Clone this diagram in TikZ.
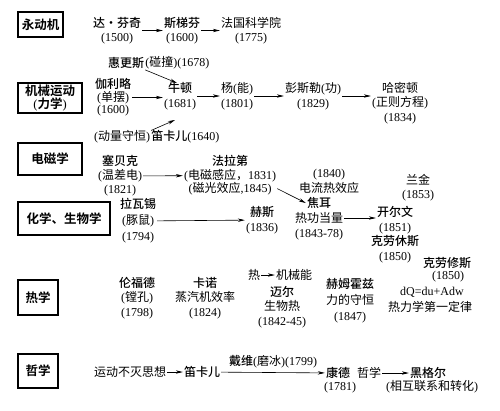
\documentclass[tikz,border=0pt]{standalone}
\usepackage{fontspec}
\setmainfont{Noto Sans CJK SC}[BoldFont={Noto Sans CJK SC Medium}]
\newfontfamily\heavyfont{Noto Sans CJK SC Bold}
\newfontfamily\latnfont{Liberation Serif}
\newcommand\ltn[1]{{\latnfont #1}}
\usetikzlibrary{arrows.meta}
\begin{document}
\begin{tikzpicture}[x=1pt,y=-1pt,
  t/.style={align=center,inner sep=1pt,font=\fontsize{12}{14.5}\selectfont},
  box/.style={draw,line width=1.1pt,inner sep=0pt,align=center,font=\fontsize{12.5}{13}\selectfont\heavyfont},
  arr/.style={-{Stealth[length=7pt,width=3.4pt]},line width=0.6pt}]
\useasboundingbox (0,0) rectangle (500,410);
% category boxes
\node[box,minimum width=45pt,minimum height=25pt] (bA) at (40.5,24.5) {永动机};
\node[box,minimum width=64pt,minimum height=30pt] (bB) at (50,98) {机械运动\\\ltn{(}力学\ltn{)}};
\node[box,minimum width=64pt,minimum height=32pt] (bC) at (50,159) {电磁学};
\node[box,minimum width=92pt,minimum height=33pt] (bD) at (64,218.5) {化学、生物学};
\node[box,minimum width=40pt,minimum height=35pt] (bE) at (38,297.5) {热学};
\node[box,minimum width=40pt,minimum height=34pt] (bF) at (38,371) {哲学};
% row 1
\node[t] (davinci) at (117,30.5) {\textbf{达·芬奇}\\\ltn{(1500)}};
\node[t] (stevin) at (182,30.5) {\textbf{斯梯芬}\\\ltn{(1600)}};
\node[t] (acad) at (251,30.5) {法国科学院\\\ltn{(1775)}};
\draw[arr] (davinci) -- (stevin);
\draw[arr] (stevin) -- (acad);
% row 2
\node[t] (huygens) at (126,63) {\textbf{惠更斯}};
\node[t,anchor=west,inner sep=0pt] (huygens2) at (huygens.east) {\ltn{(}碰撞\ltn{)(1678)}};
\node[t,font=\fontsize{12}{12.5}\selectfont] (galileo) at (113,97.5) {\textbf{伽利略}\\\ltn{(}单摆\ltn{)}\\\ltn{(1600)}};
\node[t] (newton) at (180,96) {\textbf{牛顿}\\\ltn{(1681)}};
\node[t] (dq1) at (122,137) {\ltn{(}动量守恒\ltn{)}};
\node[t,anchor=west,inner sep=0pt] (descartes) at (dq1.east) {\textbf{笛卡儿}\ltn{(1640)}};
\node[t] (young) at (237,96) {杨\ltn{(}能\ltn{)}\\\ltn{(1801)}};
\node[t] (poncelet) at (313,96) {彭斯勒\ltn{(}功\ltn{)}\\\ltn{(1829)}};
\node[t] (hamilton) at (400,103) {哈密顿\\\ltn{(}正则方程\ltn{)}\\\ltn{(1834)}};
\coordinate (nhit1) at (177,83);
\coordinate (nhit2) at (175,120);
\draw[arr] (huygens.south east) -- (nhit1);
\draw[arr] (descartes.north west) -- (nhit2);
\draw[arr] (galileo.east) -- (newton.west |- galileo.east);
\draw[arr] (newton) -- (young);
\draw[arr] (young) -- (poncelet);
\draw[arr] (poncelet.east) -- (hamilton.west |- poncelet.east);
% row 3
\node[t,font=\fontsize{12}{14}\selectfont] (seebeck) at (120,176) {\textbf{塞贝克}\\\ltn{(}温差电\ltn{)}\\\ltn{(1821)}};
\node[t,font=\fontsize{12}{13.5}\selectfont] (faraday) at (230,175.5) {\textbf{法拉第}\\\ltn{(}电磁感应，\ltn{1831)}\\\ltn{(}磁光效应\ltn{,1845)}};
\node[t] (elec) at (329,181.5) {\ltn{(1840)}\\电流热效应};
\node[t] (joule) at (319,203) {\textbf{焦耳}};
\node[t] (jwork) at (319,218) {热功当量};
\node[t] (jyear) at (319,235) {\ltn{(1843-78)}};
\node[t] (rankine) at (418,187.5) {兰金\\\ltn{(1853)}};
\node[t] (kelvin) at (395,220) {\textbf{开尔文}\\\ltn{(1851)}};
\node[t] (clausius1) at (395,249) {\textbf{克劳休斯}\\\ltn{(1850)}};
\draw[arr] (seebeck) -- (faraday);
\draw[arr] ([yshift=8pt]faraday.south east) -- (joule.west);
\draw[arr] (jwork.east) -- (kelvin.west |- jwork.east);
% row 4
\node[t,font=\fontsize{12}{16}\selectfont] (lavoisier) at (138,221) {\textbf{拉瓦锡}\\\ltn{(}豚鼠\ltn{)}\\\ltn{(1794)}};
\node[t] (hess) at (262,220) {\textbf{赫斯}\\\ltn{(1836)}};
\draw[arr] (lavoisier) -- (hess);
% row 5
\node[t] (rumford) at (137,298) {\textbf{伦福德}\\\ltn{(}镗孔\ltn{)}\\\ltn{(1798)}};
\node[t] (carnot) at (205,298) {\textbf{卡诺}\\蒸汽机效率\\\ltn{(1824)}};
\node[t] (heat) at (254,275) {热};
\node[t] (mech) at (294,275) {机械能};
\draw[arr] (heat) -- (mech);
\node[t] (mayer) at (282,307) {\textbf{迈尔}\\生物热\\\ltn{(1842-45)}};
\node[t,font=\fontsize{12}{16}\selectfont] (helm) at (350,301) {\textbf{赫姆霍兹}\\力的守恒\\\ltn{(1847)}};
\node[t] (clausius2) at (447,263) {\textbf{克劳修斯}};
\node[t] (cyear) at (448,277) {\ltn{(1850)}};
\node[t] (dq) at (432,292) {\ltn{dQ=du+Adw}};
\node[t] (law) at (430,307) {热力学第一定律};
% row 6
\node[t] (idea) at (130,372) {运动不灭思想};
\node[t] (desc2) at (202,372) {\textbf{笛卡儿}};
\node[t] (kant) at (338,373) {\textbf{康德}};
\node[t] (kyear) at (340,388) {\ltn{(1781)}};
\node[t] (davy) at (273,362) {\textbf{戴维}\ltn{(}磨冰\ltn{)(1799)}};
\node[t] (phil) at (369,373) {哲学};
\node[t] (hegel) at (428,373) {\textbf{黑格尔}};
\node[t] (hegel2) at (432,387) {\ltn{(}相互联系和转化\ltn{)}};
\draw[arr] (idea) -- (desc2);
\draw[arr] (desc2) -- (kant);
\draw[arr] (phil) -- (hegel);
\end{tikzpicture}
\end{document}
